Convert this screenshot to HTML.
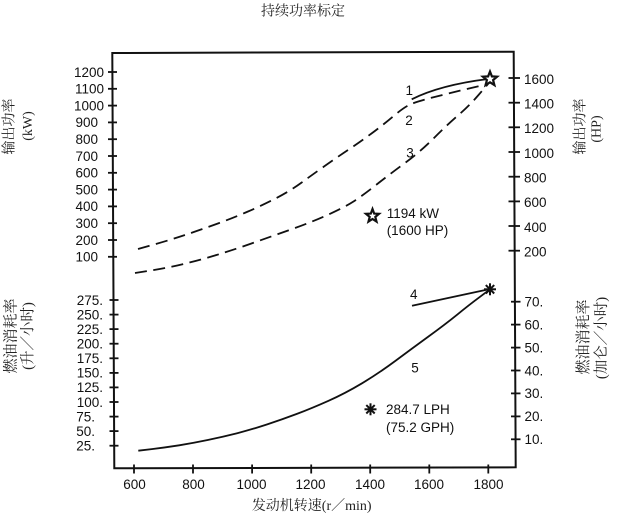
<!DOCTYPE html>
<html>
<head>
<meta charset="utf-8">
<style>
html,body{margin:0;padding:0;background:#fff;}
svg{display:block;}
.n{font-family:"Liberation Sans",sans-serif;font-size:13.5px;fill:#111;}
.c{font-family:"Liberation Serif","Noto Serif CJK SC",serif;fill:#222;}
</style>
</head>
<body>
<svg width="624" height="525" viewBox="0 0 624 525" xmlns="http://www.w3.org/2000/svg">
<rect width="624" height="525" fill="#fff"/>
<!-- title -->
<text class="c" x="303" y="12" font-size="14" text-anchor="middle" dominant-baseline="central">持续功率标定</text>

<!-- frame -->
<polygon points="112.3,53 513.7,51.7 515.7,467.3 114.3,468.3" fill="none" stroke="#111" stroke-width="2"/>

<!-- left kW ticks -->
<g stroke="#111" stroke-width="1.8">
<line x1="108" y1="72" x2="117" y2="72"/>
<line x1="108" y1="88.8" x2="117" y2="88.8"/>
<line x1="108" y1="105.6" x2="117" y2="105.6"/>
<line x1="108" y1="122.4" x2="117" y2="122.4"/>
<line x1="108" y1="139.2" x2="117" y2="139.2"/>
<line x1="108" y1="156" x2="117" y2="156"/>
<line x1="108" y1="172.8" x2="117" y2="172.8"/>
<line x1="108" y1="189.6" x2="117" y2="189.6"/>
<line x1="108" y1="206.4" x2="117" y2="206.4"/>
<line x1="108" y1="223.2" x2="117" y2="223.2"/>
<line x1="108" y1="240" x2="117" y2="240"/>
<line x1="108" y1="256.8" x2="117" y2="256.8"/>
</g>
<g class="n" text-anchor="end">
<text x="104" y="76.8">1200</text>
<text x="104" y="93.6">1100</text>
<text x="104" y="110.4">1000</text>
<text x="98" y="127.2">900</text>
<text x="98" y="144">800</text>
<text x="98" y="160.8">700</text>
<text x="98" y="177.6">600</text>
<text x="98" y="194.4">500</text>
<text x="98" y="211.2">400</text>
<text x="98" y="228">300</text>
<text x="98" y="244.8">200</text>
<text x="98" y="261.6">100</text>
</g>

<!-- left fuel ticks -->
<g stroke="#111" stroke-width="1.8">
<line x1="109.5" y1="300" x2="118.5" y2="300"/>
<line x1="109.5" y1="314.6" x2="118.5" y2="314.6"/>
<line x1="109.5" y1="329.1" x2="118.5" y2="329.1"/>
<line x1="109.5" y1="343.7" x2="118.5" y2="343.7"/>
<line x1="109.5" y1="358.3" x2="118.5" y2="358.3"/>
<line x1="109.5" y1="372.9" x2="118.5" y2="372.9"/>
<line x1="109.5" y1="387.4" x2="118.5" y2="387.4"/>
<line x1="109.5" y1="402" x2="118.5" y2="402"/>
<line x1="109.5" y1="416.6" x2="118.5" y2="416.6"/>
<line x1="109.5" y1="431.1" x2="118.5" y2="431.1"/>
<line x1="109.5" y1="445.7" x2="118.5" y2="445.7"/>
</g>
<g class="n" text-anchor="end">
<text x="103" y="304.8">275.</text>
<text x="103" y="319.4">250.</text>
<text x="103" y="333.9">225.</text>
<text x="103" y="348.5">200.</text>
<text x="103" y="363.1">175.</text>
<text x="103" y="377.7">150.</text>
<text x="103" y="392.2">125.</text>
<text x="103" y="406.8">100.</text>
<text x="95" y="421.4">75.</text>
<text x="95" y="435.9">50.</text>
<text x="95" y="450.5">25.</text>
</g>

<!-- right HP ticks -->
<g stroke="#111" stroke-width="1.8">
<line x1="508.5" y1="78" x2="520" y2="78"/>
<line x1="508.5" y1="102.7" x2="520" y2="102.7"/>
<line x1="508.5" y1="127.3" x2="520" y2="127.3"/>
<line x1="508.5" y1="152" x2="520" y2="152"/>
<line x1="508.5" y1="176.7" x2="520" y2="176.7"/>
<line x1="508.5" y1="201.4" x2="520" y2="201.4"/>
<line x1="508.5" y1="226" x2="520" y2="226"/>
<line x1="508.5" y1="250.7" x2="520" y2="250.7"/>
</g>
<g class="n">
<text x="524" y="83.8">1600</text>
<text x="524" y="108.5">1400</text>
<text x="524" y="133.1">1200</text>
<text x="524" y="157.8">1000</text>
<text x="524" y="182.5">800</text>
<text x="524" y="207.2">600</text>
<text x="524" y="231.8">400</text>
<text x="524" y="256.5">200</text>
</g>

<!-- right GPH ticks -->
<g stroke="#111" stroke-width="1.8">
<line x1="511" y1="301.7" x2="520.5" y2="301.7"/>
<line x1="511" y1="324.6" x2="520.5" y2="324.6"/>
<line x1="511" y1="347.6" x2="520.5" y2="347.6"/>
<line x1="511" y1="370.5" x2="520.5" y2="370.5"/>
<line x1="511" y1="393.4" x2="520.5" y2="393.4"/>
<line x1="511" y1="416.4" x2="520.5" y2="416.4"/>
<line x1="511" y1="439.3" x2="520.5" y2="439.3"/>
</g>
<g class="n">
<text x="524.5" y="306.5">70.</text>
<text x="524.5" y="329.4">60.</text>
<text x="524.5" y="352.4">50.</text>
<text x="524.5" y="375.3">40.</text>
<text x="524.5" y="398.2">30.</text>
<text x="524.5" y="421.2">20.</text>
<text x="524.5" y="444.1">10.</text>
</g>

<!-- bottom ticks -->
<g stroke="#111" stroke-width="1.8">
<line x1="134" y1="464.5" x2="134" y2="473.5"/>
<line x1="193" y1="464.5" x2="193" y2="473.5"/>
<line x1="252.1" y1="464.5" x2="252.1" y2="473.5"/>
<line x1="311.2" y1="464.5" x2="311.2" y2="473.5"/>
<line x1="370.2" y1="464.5" x2="370.2" y2="473.5"/>
<line x1="429.3" y1="464.5" x2="429.3" y2="473.5"/>
<line x1="488.3" y1="464.5" x2="488.3" y2="473.5"/>
</g>
<g class="n" text-anchor="middle" font-size="14">
<text x="134.5" y="489">600</text>
<text x="193.5" y="489">800</text>
<text x="251.5" y="489">1000</text>
<text x="310.5" y="489">1200</text>
<text x="370" y="489">1400</text>
<text x="429" y="489">1600</text>
<text x="488.5" y="489">1800</text>
</g>
<text class="c" x="311.7" y="506.7" font-size="14" text-anchor="middle" dominant-baseline="central">发动机转速(r／min)</text>

<!-- axis titles -->
<text class="c" font-size="14" text-anchor="middle" dominant-baseline="central" transform="translate(10,126.5) rotate(-90)">输出功率</text>
<text class="c" font-size="14" text-anchor="middle" dominant-baseline="central" transform="translate(28.5,126) rotate(-90)">(kW)</text>
<text class="c" font-size="15" text-anchor="middle" dominant-baseline="central" transform="translate(11.5,336) rotate(-90)">燃油消耗率</text>
<text class="c" font-size="14.5" text-anchor="middle" dominant-baseline="central" transform="translate(28.5,336) rotate(-90)">(升／小时)</text>
<text class="c" font-size="14" text-anchor="middle" dominant-baseline="central" transform="translate(581,126.5) rotate(-90)">输出功率</text>
<text class="c" font-size="14" text-anchor="middle" dominant-baseline="central" transform="translate(597,129) rotate(-90)">(HP)</text>
<text class="c" font-size="15" text-anchor="middle" dominant-baseline="central" transform="translate(584,337) rotate(-90)">燃油消耗率</text>
<text class="c" font-size="14.5" text-anchor="middle" dominant-baseline="central" transform="translate(602,338) rotate(-90)">(加仑／小时)</text>

<!-- curves -->
<g fill="none" stroke="#111" stroke-width="1.8" stroke-linejoin="round">
<path d="M411.7,99.3 Q440,85 488,79"/>
<path stroke-dasharray="12 6.5" d="M138,249 L154,244.5 Q170,240 185,235 Q200,230 216.5,224 Q233,218 248,211.5 Q263,205 276.5,198 Q290,191 301,183 Q312,175 324,166.5 Q336,158 348,150 Q360,142 371.5,133.5 Q383,125 393,116.5 Q403,108 409,105 Q415,102 432.5,97.5 Q450,93 469,88.5 L488,84"/>
<path stroke-dasharray="12 6.5" d="M135,273 L151,270.5 Q167,268 183.5,264 Q200,260 216.5,255 Q233,250 250,244 Q267,238 289.5,230 Q312,222 328.5,214.5 Q345,207 353.5,201.5 Q362,196 376,185 Q390,174 405,163 Q420,152 434,138 Q448,124 458.5,115 Q469,106 478.5,95 L488,84"/>
<line x1="412" y1="305.7" x2="490" y2="289"/>
<path d="M138.3,450.7 L151.7,449.1 Q165,447.5 179.2,445.3 Q193.3,443 207.7,440 Q222,437 237.2,433.2 Q252.3,429.3 267.2,424.4 Q282,419.5 296.9,413.9 Q311.7,408.3 328.5,400.8 Q345.3,393.3 362,383.3 Q378.7,373.3 395.4,360.9 Q412,348.5 428.5,336.5 Q445,324.5 457,314.8 Q469,305 479.5,297.2 L490,289.3"/>
</g>

<!-- curve labels -->
<g class="n" text-anchor="middle">
<text x="409.3" y="94.8">1</text>
<text x="409" y="124.8">2</text>
<text x="410" y="157.5">3</text>
<text x="413.7" y="298.8">4</text>
<text x="415" y="372.5">5</text>
</g>

<!-- star markers -->
<polygon points="490,71.5 491.9,76.4 497.1,76.7 493.1,80 494.4,85.1 490,82.3 485.6,85.1 486.9,80 482.9,76.7 488.1,76.4" fill="#fff" stroke="#111" stroke-width="2.2" stroke-linejoin="miter"/>
<polygon points="372.5,209 374.2,213.6 379,213.8 375.3,216.9 376.5,221.6 372.5,219 368.5,221.6 369.7,216.9 366,213.8 370.8,213.6" fill="#fff" stroke="#111" stroke-width="2.2"/>

<!-- asterisk markers -->
<g stroke="#111" stroke-width="2">
<line x1="484" y1="289.3" x2="496" y2="289.3"/>
<line x1="490" y1="283.3" x2="490" y2="295.3"/>
<line x1="485.8" y1="285.1" x2="494.2" y2="293.5"/>
<line x1="485.8" y1="293.5" x2="494.2" y2="285.1"/>
<line x1="364.5" y1="409.3" x2="376.5" y2="409.3"/>
<line x1="370.5" y1="403.3" x2="370.5" y2="415.3"/>
<line x1="366.3" y1="405.1" x2="374.7" y2="413.5"/>
<line x1="366.3" y1="413.5" x2="374.7" y2="405.1"/>
</g>

<!-- legend texts -->
<g class="n">
<text x="386.7" y="218.1">1194 kW</text>
<text x="386.7" y="234.8">(1600 HP)</text>
<text x="386" y="414.2">284.7 LPH</text>
<text x="386" y="432.2">(75.2 GPH)</text>
</g>
</svg>
</body>
</html>
